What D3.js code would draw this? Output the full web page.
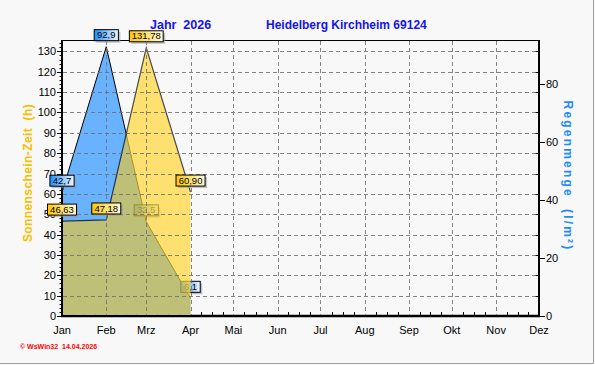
<!DOCTYPE html>
<html>
<head>
<meta charset="utf-8">
<script src="https://cdn.jsdelivr.net/npm/d3@7"></script>
<style>
  body { margin: 0; background: #f8f8f8; }
  text { font-family: Arial, "Liberation Sans", sans-serif; }
</style>
</head>
<body>
<div id="chart"></div>
<script>
// --- data ---
const monthNames = ["Jan", "Feb", "Mrz", "Apr", "Mai", "Jun", "Jul", "Aug", "Sep", "Okt", "Nov", "Dez"];
const sunHours = [46.63, 47.18, 131.78, 60.90];   // Sonnenschein-Zeit (h)
const rainMM = [42.7, 92.9, 32.5, 6.1];           // Regenmenge (l/m²)
const leftTicks = d3.range(0, 131, 10);
const rightTicks = [0, 20, 40, 60, 80];

const W = 595, H = 365;
const plot = { left: 62, right: 539, top: 40, bottom: 316 };

const svg = d3.select("#chart").append("svg")
    .attr("width", W).attr("height", H);

svg.append("rect").attr("width", W).attr("height", H).attr("fill", "#f8f8f8");
// bevel-ish frame
svg.append("path").attr("d", `M0,${H - 1.5}H${W - 1.5}V0`)
    .attr("fill", "none").attr("stroke", "#a0a0a0").attr("stroke-width", 1);

const monthDate = i => new Date(2026, i, 1);
const x = d3.scaleTime().domain([monthDate(0), monthDate(11)]).range([plot.left, plot.right]);
const yL = d3.scaleLinear().domain([0, 135.6]).range([plot.bottom, plot.top]);
const yR = d3.scaleLinear().domain([0, 95.2]).range([plot.bottom, plot.top]);

const defs = svg.append("defs");
function grad(id, c1, c2) {
    const g = defs.append("linearGradient").attr("id", id)
        .attr("x1", "0%").attr("x2", "100%").attr("y1", "0%").attr("y2", "0%");
    g.append("stop").attr("offset", "0%").attr("stop-color", c1);
    g.append("stop").attr("offset", "100%").attr("stop-color", c2);
}
grad("rainGrad", "#1e8cff", "#f0f8ff");
grad("sunGrad", "#ffc800", "#fffbe0");

const rainPts = rainMM.map((v, i) => ({ d: monthDate(i), v }));
const sunPts = sunHours.map((v, i) => ({ d: monthDate(i), v }));

const rainArea = d3.area().x(p => x(p.d)).y0(plot.bottom).y1(p => yR(p.v));
const sunArea = d3.area().x(p => x(p.d)).y0(plot.bottom).y1(p => yL(p.v));
const rainLine = d3.line().x(p => x(p.d)).y(p => yR(p.v));
const sunLine = d3.line().x(p => x(p.d)).y(p => yL(p.v));

defs.append("clipPath").attr("id", "rainClip")
    .append("path").attr("d", rainArea(rainPts));
defs.append("clipPath").attr("id", "plotClip")
    .append("rect").attr("x", plot.left + 1).attr("y", plot.top + 1)
    .attr("width", plot.right - plot.left - 2).attr("height", plot.bottom - plot.top - 2.3);

// frame and axes first, areas sit inside them
const ax = svg.append("g").attr("stroke", "#000");
ax.append("line").attr("x1", plot.left).attr("x2", plot.right).attr("y1", plot.top + 0.5).attr("y2", plot.top + 0.5).attr("stroke-width", 1);
ax.append("line").attr("x1", plot.left).attr("x2", plot.left).attr("y1", plot.top).attr("y2", plot.bottom + 1).attr("stroke-width", 2);
ax.append("line").attr("x1", plot.right).attr("x2", plot.right).attr("y1", plot.top).attr("y2", plot.bottom + 1).attr("stroke-width", 2);
ax.append("line").attr("x1", plot.left - 1).attr("x2", plot.right + 1).attr("y1", plot.bottom).attr("y2", plot.bottom).attr("stroke-width", 2.5);

// left axis ticks
d3.range(0, 135, 2).forEach(t => {
    const yy = Math.round(yL(t)) + 0.5;
    const major = t % 10 === 0;
    ax.append("line").attr("x1", plot.left - (major ? 5 : 2.5)).attr("x2", plot.left)
        .attr("y1", yy).attr("y2", yy).attr("stroke-width", 1);
    if (major) {
        ax.append("line").attr("x1", plot.right - 4).attr("x2", plot.right)
            .attr("y1", yy).attr("y2", yy).attr("stroke-width", 1);
    }
});
svg.append("g").selectAll("text").data(leftTicks).join("text")
    .attr("x", plot.left - 6).attr("y", d => yL(d) + 4)
    .attr("text-anchor", "end").attr("font-size", "11px").attr("fill", "#000")
    .text(d => d);

// right axis
rightTicks.forEach(t => {
    const yy = Math.round(yR(t)) + 0.5;
    ax.append("line").attr("x1", plot.right).attr("x2", plot.right + 6)
        .attr("y1", yy).attr("y2", yy).attr("stroke-width", 1);
});
svg.append("g").selectAll("text").data(rightTicks).join("text")
    .attr("x", plot.right + 7).attr("y", d => yR(d) + 4)
    .attr("font-size", "11px").attr("fill", "#000")
    .text(d => d);

// x axis minor ticks (quarter months) and labels
d3.range(0, 11).forEach(i => {
    const a = x(monthDate(i)), b = x(monthDate(i + 1));
    [0.25, 0.5, 0.75].forEach(f => {
        const xx = Math.round(a + (b - a) * f) + 0.5;
        ax.append("line").attr("x1", xx).attr("x2", xx)
            .attr("y1", plot.bottom - 4).attr("y2", plot.bottom).attr("stroke-width", 1);
    });
});
svg.append("g").selectAll("text").data(monthNames).join("text")
    .attr("x", (d, i) => x(monthDate(i))).attr("y", plot.bottom + 18)
    .attr("text-anchor", "middle").attr("font-size", "11px").attr("fill", "#000")
    .text(d => d);

// rain area
const rainG = svg.append("g").attr("clip-path", "url(#plotClip)");
rainG.append("path").attr("d", rainArea(rainPts)).attr("fill", "#68b2ff");
rainG.append("path").attr("d", rainLine(rainPts)).attr("fill", "none")
    .attr("stroke", "#000").attr("stroke-width", 1);

function labels(pts, yScale, fmt, fill) {
    const g = svg.append("g");
    pts.forEach(p => {
        const txt = fmt(p.v);
        const w = txt.length * 4.8 + 5, h = 11;
        const cx = x(p.d), by = yScale(p.v) - 6;
        g.append("rect").attr("x", cx - w / 2 + 2).attr("y", by - h + 2)
            .attr("width", w).attr("height", h).attr("fill", "#9a9a9a").attr("opacity", 0.6);
        g.append("rect").attr("x", cx - w / 2).attr("y", by - h)
            .attr("width", w).attr("height", h).attr("fill", fill)
            .attr("stroke", "#000").attr("stroke-width", 1);
        g.append("text").attr("x", cx).attr("y", by - 2.3)
            .attr("text-anchor", "middle").attr("font-size", "9.5px").attr("fill", "#000")
            .text(txt);
    });
}
const comma = n => s => s.toFixed(n).replace(".", ",");

labels(rainPts, yR, comma(1), "url(#rainGrad)");

// sunshine area, semi-opaque so rain labels show through
const sunG = svg.append("g").attr("opacity", 0.7).attr("clip-path", "url(#plotClip)");
sunG.append("path").attr("d", sunArea(sunPts)).attr("fill", "#ffd636");
sunG.append("path").attr("d", sunArea(sunPts)).attr("fill", "#e4c63e")
    .attr("clip-path", "url(#rainClip)");
sunG.append("path").attr("d", sunLine(sunPts)).attr("fill", "none")
    .attr("stroke", "#000").attr("stroke-width", 1.2);

// grid
const grid = svg.append("g").attr("stroke", "#707070").attr("stroke-dasharray", "4,3")
    .attr("stroke-width", 1).attr("opacity", 0.85);
leftTicks.filter(t => t > 0).forEach(t => {
    grid.append("line").attr("x1", plot.left + 1).attr("x2", plot.right - 1)
        .attr("y1", Math.round(yL(t)) + 0.5).attr("y2", Math.round(yL(t)) + 0.5);
});
d3.range(1, 11).forEach(i => {
    const xx = Math.round(x(monthDate(i))) + 0.5;
    grid.append("line").attr("x1", xx).attr("x2", xx).attr("y1", plot.top + 1).attr("y2", plot.bottom - 1);
});

labels(sunPts, yL, comma(2), "url(#sunGrad)");

// titles
svg.append("text").attr("x", 150).attr("y", 29)
    .attr("font-size", "12.5px").attr("font-weight", "bold").attr("fill", "#1414f0")
    .style("white-space", "pre")
    .text("Jahr  2026");
svg.append("text").attr("x", 266).attr("y", 29)
    .attr("font-size", "12px").attr("font-weight", "bold").attr("fill", "#1414f0")
    .text("Heidelberg Kirchheim 69124");

svg.append("text")
    .attr("transform", "translate(32,173) rotate(-90)")
    .attr("text-anchor", "middle").attr("font-size", "12px").attr("font-weight", "bold")
    .attr("letter-spacing", "0.4px").attr("fill", "#f5c000").style("white-space", "pre")
    .text("Sonnenschein-Zeit  (h)");
svg.append("text")
    .attr("transform", "translate(564,176) rotate(90)")
    .attr("text-anchor", "middle").attr("font-size", "12px").attr("font-weight", "bold")
    .attr("letter-spacing", "2.2px").attr("fill", "#1e8cff").style("white-space", "pre")
    .text("Regenmenge  (l/m²)");

svg.append("text").attr("x", 20).attr("y", 349)
    .attr("font-size", "7px").attr("font-weight", "bold").attr("fill", "#ff0000")
    .style("white-space", "pre")
    .text("© WsWin32  14.04.2026");
</script>
</body>
</html>
